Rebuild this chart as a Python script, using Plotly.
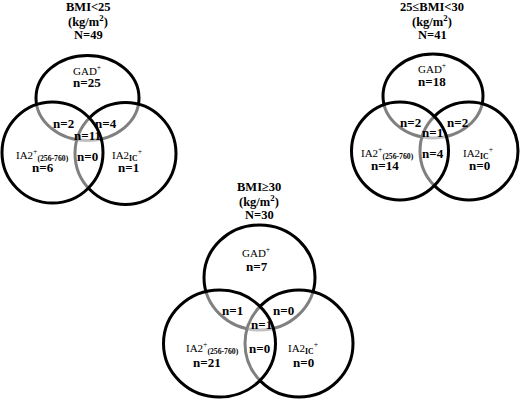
import plotly.graph_objects as go

# data
groups = ["BMI<25", "25≤BMI<30", "BMI≥30"]
totals = [49, 41, 30]
gad_only = [25, 18, 7]
ia2_only = [6, 14, 21]
ia2ic_only = [1, 0, 0]
gad_ia2 = [2, 2, 1]
gad_ia2ic = [4, 2, 0]
ia2_ia2ic = [0, 4, 0]
all_three = [11, 1, 1]

set_labels = ["GAD<sup>+</sup>", "IA2<sup>+</sup><sub><b>(256-760)</b></sub>", "IA2<sub><b>IC</b></sub><sup>+</sup>"]

# geometry (pixel space): top ellipse, left circle, right circle as (cx, cy, rx, ry)
geom = [
    {"top": (87.5, 98, 51.5, 42.5), "left": (52.5, 152.5, 50.5, 50.5), "right": (125.5, 153.5, 50.5, 51),
     "title_y": 7, "title_x": 88},
    {"top": (433, 96, 50, 42), "left": (400, 151, 48.5, 49), "right": (469, 151, 49, 49),
     "title_y": 7, "title_x": 432},
    {"top": (259.5, 277.5, 55.5, 52.5), "left": (219.5, 343.5, 56, 53.5), "right": (299, 343.5, 54, 53.5),
     "title_y": 187, "title_x": 259},
]

# where the region counts sit in each venn
label_pos = [
    {"gad": (87, 70), "gad_n": (87, 82), "gi": (63, 123), "gc": (106, 123), "all": (87, 135),
     "ia2": (42, 155), "ia2_n": (43, 167), "ic2": (87, 156), "ic": (127, 155), "ic_n": (128, 167)},
    {"gad": (432, 68), "gad_n": (432, 81), "gi": (410, 122), "gc": (457, 122), "all": (432, 132),
     "ia2": (387, 153), "ia2_n": (385, 165), "ic2": (433, 153), "ic": (478, 153), "ic_n": (479, 165)},
    {"gad": (256, 252), "gad_n": (257, 266), "gi": (232, 310), "gc": (283, 310), "all": (261, 324),
     "ia2": (212, 348), "ia2_n": (207, 362), "ic2": (259, 348), "ic": (303, 348), "ic_n": (303, 362)},
]

serif = "Liberation Serif"
fig = go.Figure()
shapes = []
annotations = []


def ellipse(c, fill):
    cx, cy, rx, ry = c
    return dict(type="circle", xref="x", yref="y", x0=cx - rx, x1=cx + rx, y0=cy - ry, y1=cy + ry,
                line=dict(color="black", width=3), fillcolor=fill, layer="above")


def label(x, y, text, size=13, bold=True):
    if bold:
        text = "<b>" + text + "</b>"
    annotations.append(dict(x=x, y=y, xref="x", yref="y", text=text, showarrow=False,
                            xanchor="center", yanchor="middle",
                            font=dict(family=serif, size=size, color="black")))


for i, g in enumerate(geom):
    # order matters: lines underneath a later circle get greyed by its translucent fill
    shapes.append(ellipse(g["top"], "rgba(0,0,0,0)"))
    shapes.append(ellipse(g["right"], "rgba(255,255,255,0.5)"))
    shapes.append(ellipse(g["left"], "rgba(255,255,255,0.5)"))

    tx, ty = g["title_x"], g["title_y"]
    label(tx, ty, groups[i], size=12.5)
    label(tx, ty + 14, "(kg/m<sup>2</sup>)", size=12.5)
    label(tx, ty + 28, "N=" + str(totals[i]), size=12.5)

    p = label_pos[i]
    label(*p["gad"], set_labels[0], size=11, bold=False)
    label(*p["gad_n"], "n=" + str(gad_only[i]))
    label(*p["gi"], "n=" + str(gad_ia2[i]))
    label(*p["gc"], "n=" + str(gad_ia2ic[i]))
    label(*p["all"], "n=" + str(all_three[i]))
    label(*p["ia2"], set_labels[1], size=11, bold=False)
    label(*p["ia2_n"], "n=" + str(ia2_only[i]))
    label(*p["ic2"], "n=" + str(ia2_ia2ic[i]))
    label(*p["ic"], set_labels[2], size=11, bold=False)
    label(*p["ic_n"], "n=" + str(ia2ic_only[i]))

fig.update_layout(
    width=520, height=401,
    margin=dict(l=0, r=0, t=0, b=0),
    paper_bgcolor="white", plot_bgcolor="white",
    shapes=shapes, annotations=annotations,
    showlegend=False,
    xaxis=dict(range=[0, 520], visible=False, fixedrange=True),
    yaxis=dict(range=[401, 0], visible=False, fixedrange=True),
)

# drop the browser's default 8px body margin so the figure fills the window
fig.write_html("out.html", config={"displayModeBar": False},
               post_script="document.body.style.margin='0';")
